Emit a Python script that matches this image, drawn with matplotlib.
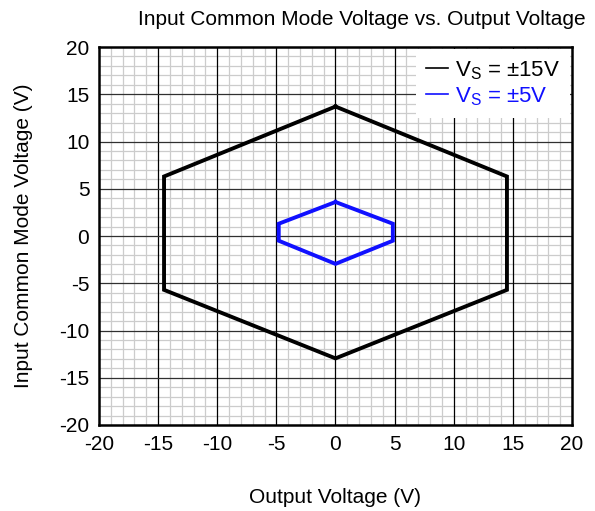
import matplotlib
matplotlib.use('Agg')
import matplotlib.pyplot as plt
from matplotlib.ticker import MultipleLocator

plt.rcParams['font.family'] = ['Liberation Sans', 'DejaVu Sans']
plt.rcParams['axes.unicode_minus'] = False

# Hexagon outlines (output voltage, input common mode voltage)
vout_15 = [0, 14.5, 14.5, 0, -14.5, -14.5, 0]
vcm_15 = [13.7, 6.3, -5.7, -12.95, -5.7, 6.3, 13.7]
vout_5 = [0, 4.85, 4.85, 0, -4.8, -4.8, 0]
vcm_5 = [3.6, 1.3, -0.5, -2.95, -0.5, 1.3, 3.6]

labels = ['V$_\\mathregular{S}$ = ±15V', 'V$_\\mathregular{S}$ = ±5V']
colors = ['black', '#1010ff']
major = [-20, -15, -10, -5, 0, 5, 10, 15, 20]

fig = plt.figure(figsize=(5.95, 5.11), dpi=100)
ax = fig.add_axes([0.1664, 0.1683, 0.7949, 0.7397])

ax.plot(vout_15, vcm_15, color=colors[0], lw=2.8, label=labels[0], solid_joinstyle='miter', zorder=3)
ax.plot(vout_5, vcm_5, color=colors[1], lw=2.8, label=labels[1], solid_joinstyle='miter', zorder=3)

ax.set_xlim(-20, 20)
ax.set_ylim(-20, 20)
ax.set_xticks(major)
ax.set_yticks(major)
ax.xaxis.set_minor_locator(MultipleLocator(1))
ax.yaxis.set_minor_locator(MultipleLocator(1))
ax.grid(which='minor', color='#cccccc', lw=0.9)
ax.set_axisbelow(True)
# major grid drawn above the minor grid
for v in major[1:-1]:
    ax.axvline(v, color='black', lw=0.9, zorder=1)
    ax.axhline(v, color='#303030', lw=0.9, zorder=1)
ax.tick_params(which='both', length=0, labelsize=15, pad=7)
for s in ax.spines.values():
    s.set_linewidth(1.8)
    s.set_zorder(5)

ax.set_xlabel('Output Voltage (V)', fontsize=15, labelpad=25)
ax.set_ylabel('Input Common Mode Voltage (V)', fontsize=15, labelpad=19)
fig.text(0.608, 0.962, 'Input Common Mode Voltage vs. Output Voltage',
         ha='center', va='center', fontsize=15)

h = [plt.Line2D([], [], color=c, lw=1.2) for c in colors]
leg = ax.legend(h, labels, loc='upper right', fontsize=16, handlelength=1.0,
                handletextpad=0.3, borderaxespad=0.1, borderpad=0.45, labelspacing=0.15,
                frameon=True, fancybox=False, framealpha=1, edgecolor='white',
                labelcolor=colors)
leg.get_frame().set_linewidth(0)
leg.set_zorder(6)

fig.savefig('out.png', dpi=100)
